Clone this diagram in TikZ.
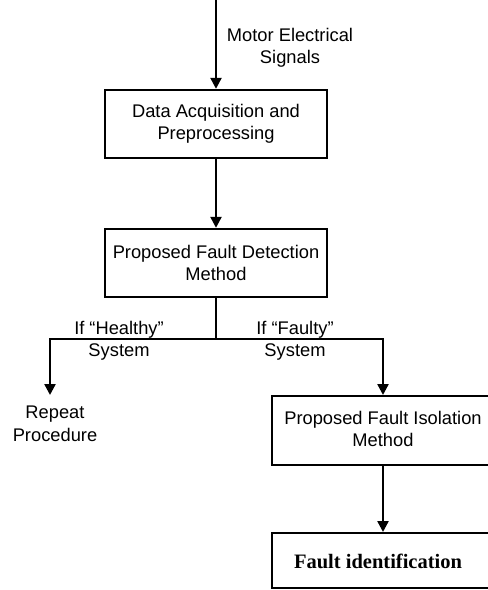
\documentclass[tikz,border=0pt]{standalone}
\usepackage{fontspec}
\setmainfont{Liberation Sans}
\newfontfamily\serifbold{Liberation Serif}
\usetikzlibrary{arrows.meta}
\tikzset{
  flowbox/.style={draw, line width=2.4pt, rectangle, align=center,
    minimum width=222pt, minimum height=68pt, inner sep=0pt},
  lbl/.style={align=center, inner sep=0pt},
  flow/.style={line width=2.4pt, -{Triangle[width=11pt,length=11pt]}},
  wire/.style={line width=2.4pt}
}
\begin{document}
\begin{tikzpicture}[x=1pt,y=-1pt,font=\fontsize{18.3}{22.5}\selectfont]
\useasboundingbox (0,0) rectangle (488,590);
\clip (0,0) rectangle (488,590);

% main blocks
\node[flowbox] (acq) at (216,124) {Data Acquisition and\\Preprocessing};
\node[flowbox] (det) at (216,263) {Proposed Fault Detection\\Method};
\node[flowbox, anchor=north west, minimum width=224pt, minimum height=69pt] (iso) at (271,395) {};
\node[lbl] at (383,429) {Proposed Fault Isolation\\Method};
\node[flowbox, anchor=north west, minimum width=224pt, minimum height=55pt] (ident) at (271,532) {};
\node[lbl, font=\serifbold\bfseries\fontsize{20.5}{24}\selectfont] at (378,561) {Fault identification};

% input signal
\coordinate (src) at (216,-2);
\draw[flow] (src) -- (acq.north);
\node[lbl] (sig) at (290,48) {Motor Electrical\\Signals};

\draw[flow] (acq.south) -- (det.north);

% decision branches
\coordinate (split) at (216,339);
\coordinate (lcorner) at (50,339);
\coordinate (rcorner) at (383,339);
\coordinate (repeat) at (50,395);
\draw[wire] (det.south) -- (split);
\draw[flow] (split) -- (lcorner) -- (repeat);
\draw[flow] (split) -- (rcorner) -- (rcorner |- iso.north);
\draw[flow] (383,464) -- (383,532);

\node[lbl] (healthy) at (119,341) {If “Healthy”\\System};
\node[lbl] (faulty) at (295,341) {If “Faulty”\\System};
\node[lbl] (rep) at (55,424) {Repeat\\Procedure};
\end{tikzpicture}
\end{document}
